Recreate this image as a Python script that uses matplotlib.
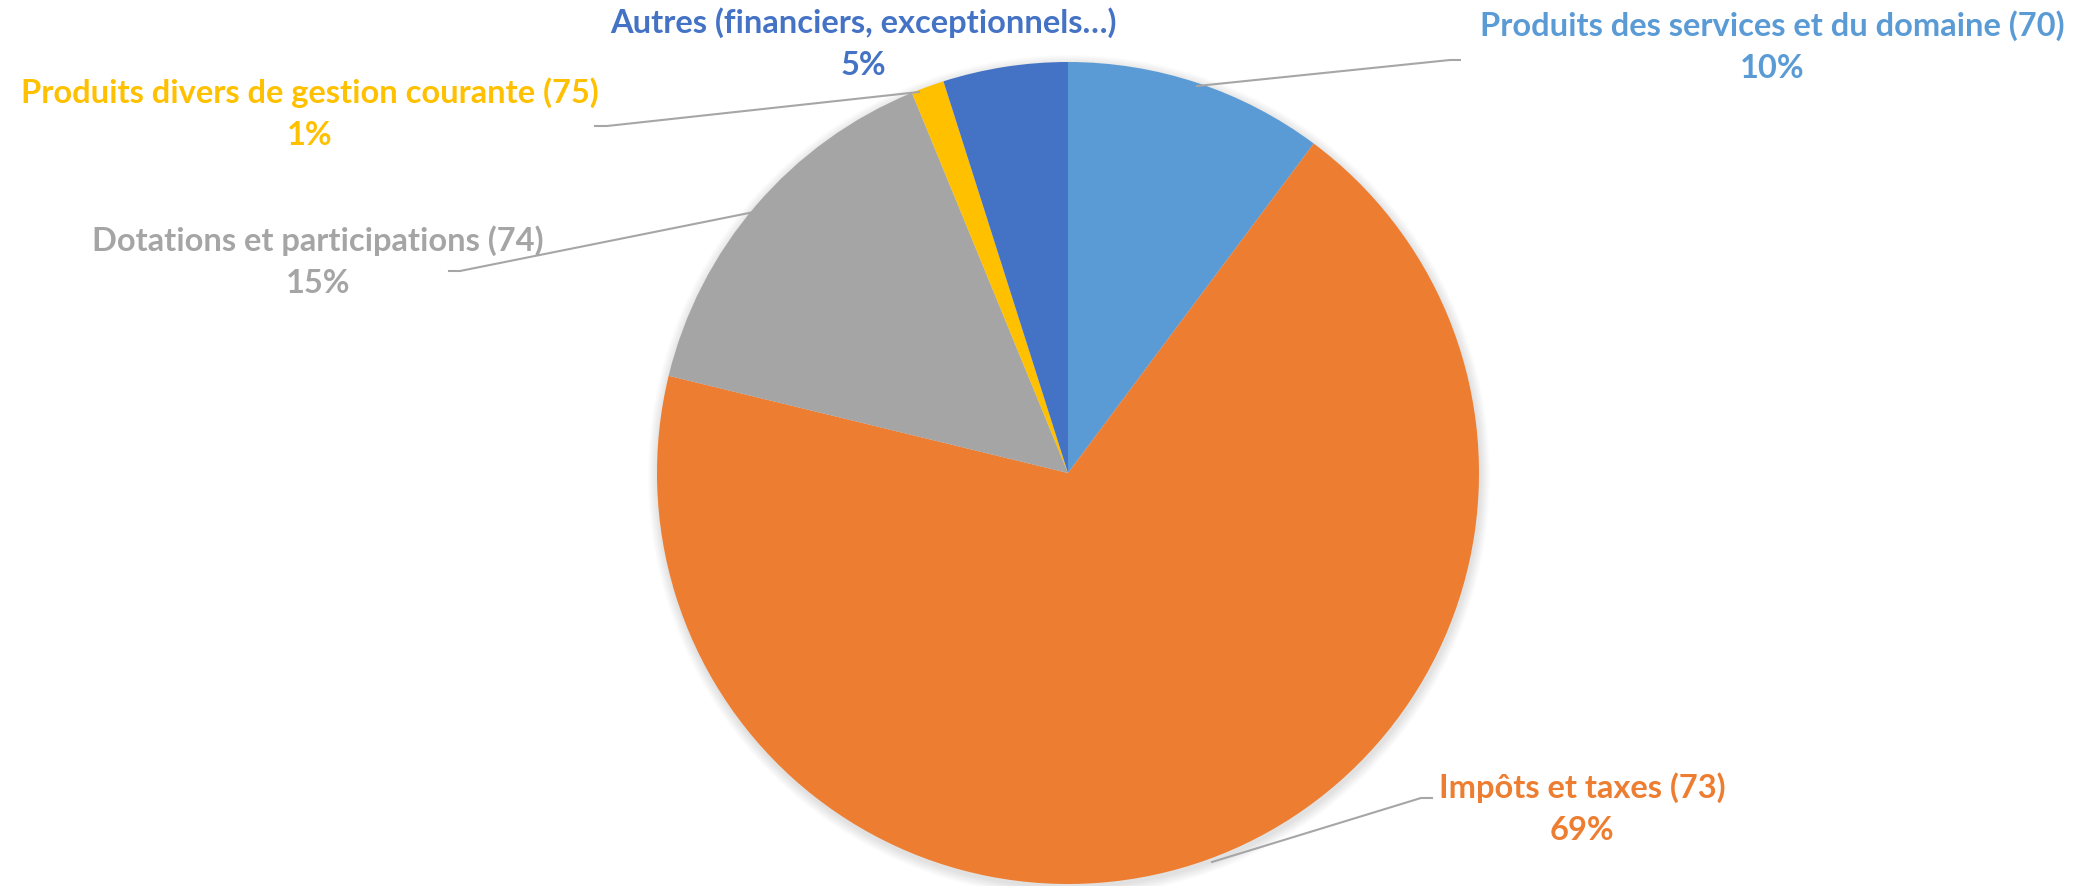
import matplotlib.pyplot as plt
from matplotlib.patches import Circle

categories = ['Produits des services et du domaine (70)', 'Impôts et taxes (73)',
              'Dotations et participations (74)', 'Produits divers de gestion courante (75)',
              'Autres (financiers, exceptionnels…)']
shares = [10.2, 68.6, 15.0, 1.3, 4.9]
colors = ['#5B9BD5', '#ED7D31', '#A5A5A5', '#FFC000', '#4472C4']

# label centres (pixels, y from top) and leader lines
label_pos = [(1772, 47), (1582, 809), (318, 262), (310, 114), (863, 44)]
leaders = [
    [(1197, 87), (1450, 61), (1460, 61)],
    [(1212, 863), (1421, 799), (1432, 799)],
    [(754, 213), (460, 272), (449, 272)],
    [(919, 93), (607, 127), (595, 127)],
    None,
]

W, H = 2095, 887
fig = plt.figure(figsize=(W / 100, H / 100), dpi=100)
ax = fig.add_axes([0, 0, 1, 1])

cx, cy, r = 1068, H - 474, 411

# soft shadow
for i in range(10):
    ax.add_patch(Circle((cx + 1, cy - 3), r + 10 - i, color='black', alpha=0.012, lw=0, zorder=0))

ax.pie(shares, colors=colors, startangle=90, counterclock=False, center=(cx, cy),
       radius=r, frame=True, wedgeprops=dict(linewidth=0))
ax.set_xlim(0, W)
ax.set_ylim(0, H)
ax.set_aspect('equal')
ax.axis('off')

for cat, v, col, (x, y), ld in zip(categories, shares, colors, label_pos, leaders):
    ax.text(x, H - y, f"{cat}\n{v:.0f}%", color=col, ha='center', va='center',
            fontsize=23.5, fontweight='bold', family='Lato', linespacing=1.55)
    if ld:
        ax.plot([p[0] for p in ld], [H - p[1] for p in ld], color='#A6A6A6', lw=1.5)

fig.savefig('out.png', dpi=100)
